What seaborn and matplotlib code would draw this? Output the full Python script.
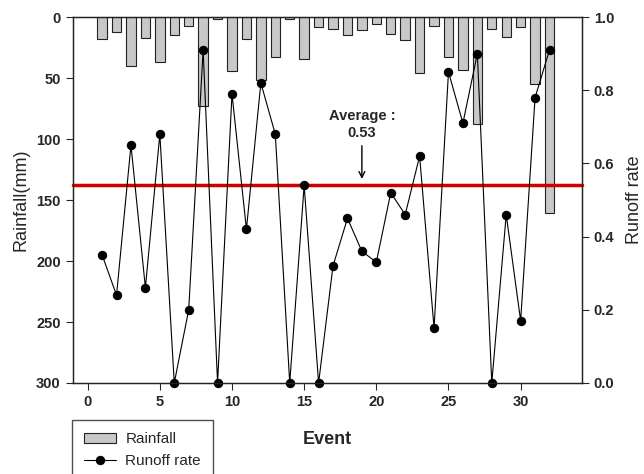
import matplotlib
matplotlib.use("Agg")
import matplotlib.pyplot as plt
import seaborn as sns

# rainfall (mm) and runoff rate for each event
events = list(range(1, 33))
rainfall = [18, 12, 40, 17, 37, 14.5, 7.5, 73, 1.5, 44, 18, 52, 33, 1.5, 34, 8.5,
            10, 15, 11, 6, 14, 19, 46, 7.5, 33, 43, 88, 10, 16.5, 8.5, 55, 161]
runoff = [0.35, 0.24, 0.65, 0.26, 0.68, 0.0, 0.20, 0.91, 0.0, 0.79, 0.42, 0.82,
          0.68, 0.0, 0.54, 0.0, 0.32, 0.45, 0.36, 0.33, 0.52, 0.46, 0.62, 0.15,
          0.85, 0.71, 0.90, 0.0, 0.46, 0.17, 0.78, 0.91]
average_text = "Average :\n0.53"
average_line = 0.542

sns.set_style("ticks")
plt.rcParams['font.family'] = ['Liberation Sans', 'DejaVu Sans']

fig = plt.figure(figsize=(6.44, 4.74), dpi=100)
ax = fig.add_axes([0.1126, 0.192, 0.7911, 0.772])

sns.barplot(x=events, y=rainfall, native_scale=True, width=0.65, color='#c8c8c8',
            saturation=1, edgecolor='#222222', linewidth=0.8, errorbar=None,
            ax=ax, label='Rainfall')
ax.set_ylim(300, 0)
ax.set_yticks(range(0, 301, 50))
ax.set_ylabel('Rainfall(mm)', fontsize=13, labelpad=5)
ax.set_xlabel('Event', fontsize=13, fontweight='bold', labelpad=16)

ax2 = ax.twinx()
ax2.axhline(average_line, color='#cc0000', lw=2.5, zorder=1.5)
sns.lineplot(x=events, y=runoff, marker='o', color='black', lw=0.8,
             markersize=6, markeredgecolor='black', ax=ax2, label='Runoff rate')
for ln in ax2.lines:
    ln.set_clip_on(False)
ax2.set_ylim(0, 1)
ax2.set_yticks([0, 0.2, 0.4, 0.6, 0.8, 1.0])
ax2.set_yticklabels(['0.0', '0.2', '0.4', '0.6', '0.8', '1.0'])
ax2.set_ylabel('Runoff rate', fontsize=13, labelpad=8)

ax.set_xlim(-1.05, 34.25)
ax.set_xticks(range(0, 31, 5))
ax.set_xticklabels([str(v) for v in range(0, 31, 5)])

for a in (ax, ax2):
    a.tick_params(direction='out', length=5, width=0.8, labelsize=10.5)
    for lab in a.get_xticklabels() + a.get_yticklabels():
        lab.set_fontweight('bold')
    for sp in a.spines.values():
        sp.set_visible(True)
        sp.set_linewidth(0.9)
        sp.set_color('#222222')

ax2.annotate(average_text, xy=(19, 0.55), xytext=(19, 0.665),
             ha='center', va='bottom', fontsize=10.5, fontweight='bold',
             arrowprops=dict(arrowstyle='->', color='black', lw=1.0))

h1, l1 = ax.get_legend_handles_labels()
h2, l2 = ax2.get_legend_handles_labels()
if ax2.get_legend() is not None:
    ax2.get_legend().remove()
if ax.get_legend() is not None:
    ax.get_legend().remove()
fig.legend(h1 + h2, l1 + l2, loc='upper left',
           bbox_to_anchor=(72 / 644, 1 - 420 / 474), borderaxespad=0,
           frameon=True, fancybox=False, edgecolor='#222222', fontsize=11,
           borderpad=0.8, handlelength=2.1, handletextpad=0.6,
           labelspacing=0.5)

fig.savefig('out.png', dpi=100)
